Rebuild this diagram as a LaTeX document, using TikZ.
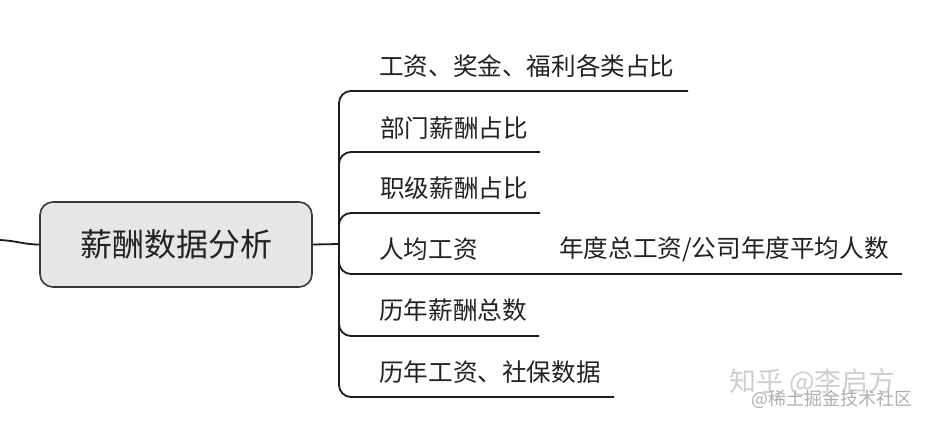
\documentclass[tikz,border=0pt]{standalone}
\usepackage{fontspec}
\newfontfamily\cjk{Noto Sans CJK SC}
\definecolor{ink}{HTML}{222222}
\definecolor{linec}{HTML}{1C1C1C}
\definecolor{rootfill}{HTML}{E6E6E6}
\definecolor{rootdraw}{HTML}{3A3A3A}
\definecolor{wm}{HTML}{CFCFCF}
\definecolor{wmb}{HTML}{AFAFAF}
\begin{document}
\begin{tikzpicture}[x=1pt,y=-1pt,
  rootbox/.style={draw=rootdraw,fill=rootfill,line width=1.6pt,rounded corners=13pt,
    minimum width=272pt,minimum height=85pt,inner sep=0pt,
    font=\cjk\fontsize{32}{32}\selectfont,text=ink},
  leaf/.style={anchor=west,inner sep=0pt,font=\cjk\fontsize{24.6}{24.6}\selectfont,text=ink},
  branch/.style={draw=linec,line width=1.8pt,rounded corners=12pt},
  trunk/.style={draw=linec,line width=1.8pt},
  wmtext/.style={inner sep=0pt,anchor=west}]
\useasboundingbox[fill=white] (0,0) rectangle (926,424);
\node[rootbox] (root) at (176,244.5) {薪酬数据分析};
\coordinate (hub) at (339,244);
\coordinate (lin) at (0,240);
\coordinate (e1) at (688,91);
\coordinate (e2) at (540,152);
\coordinate (e3) at (540,213);
\coordinate (e4) at (902,274);
\coordinate (e5) at (539,336);
\coordinate (e6) at (614,397);
\draw[trunk] (lin) .. controls (18,241) and (24,244.5) .. (root.west);
\draw[trunk] (root.east) -- (hub);
\foreach \e in {e1,e2,e3,e4,e5,e6}{\draw[branch] (hub) |- (\e);}
\node[leaf] (t1) at (379,66) {工资、奖金、福利各类占比};
\node[leaf] (t2) at (380,128) {部门薪酬占比};
\node[leaf] (t3) at (380,188) {职级薪酬占比};
\node[leaf] (t4) at (379,249) {人均工资};
\node[leaf] (t4b) at (559,249) {年度总工资/公司年度平均人数};
\node[leaf] (t5) at (379,310) {历年薪酬总数};
\node[leaf] (t6) at (379,372) {历年工资、社保数据};
\node[wmtext,text=wm,font=\cjk\fontsize{27}{27}\selectfont] (w1) at (729,382) {知乎 @李启方};
\node[wmtext,text=wmb,font=\cjk\fontsize{18}{18}\selectfont] (w2) at (751,399) {@稀土掘金技术社区};
\end{tikzpicture}
\end{document}
